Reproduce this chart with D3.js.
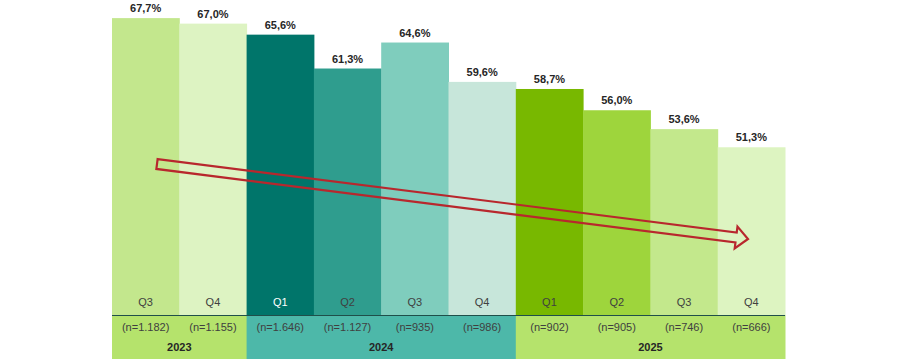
<!DOCTYPE html>
<html>
<head>
<meta charset="utf-8">
<script src="https://cdn.jsdelivr.net/npm/d3@7"></script>
<style>
    body { margin: 0; background: #fff; }
    #chart { width: 900px; height: 359px; }
    text { font-family: Arial, "Liberation Sans", sans-serif; }
</style>
</head>
<body>
<div id="chart"></div>
<script>
//Datos
const quarters = ['Q3', 'Q4', 'Q1', 'Q2', 'Q3', 'Q4', 'Q1', 'Q2', 'Q3', 'Q4'];
const years = ['2023', '2023', '2024', '2024', '2024', '2024', '2025', '2025', '2025', '2025'];
const values = [67.7, 67.0, 65.6, 61.3, 64.6, 59.6, 58.7, 56.0, 53.6, 51.3];
const samples = ['1.182', '1.155', '1.646', '1.127', '935', '986', '902', '905', '746', '666'];
const barColors = ['#c3e78d', '#ddf3c2', '#00756a', '#2f9d8e', '#7fcdbd', '#c7e6da', '#78b800', '#9ed53c', '#c3e88c', '#ddf4c1'];
const yearList = ['2023', '2024', '2025'];
const yearColors = ['#b5e36c', '#4db8a9', '#b5e36c'];

const keys = d3.range(values.length);

let margin = {top: 0, right: 115, bottom: 44, left: 112},
    width = 900 - margin.left - margin.right,
    height = 359 - margin.top - margin.bottom;

let svg = d3.select('#chart')
    .append('svg')
        .attr('width', 900)
        .attr('height', 359)
    .append('g')
        .attr('transform', 'translate(' + margin.left + ',' + margin.top + ')');

let x = d3.scaleBand()
    .domain(keys)
    .range([0, width])
    .padding(0);

//Eje Y (oculto), no empieza en 0
let y = d3.scaleLinear()
    .domain([30, 70])
    .range([height, 0]);

//Barras
svg.selectAll('.bar')
    .data(keys)
    .enter()
    .append('rect')
    .attr('class', 'bar')
    .attr('x', function(d) { return x(d); })
    .attr('width', x.bandwidth() + 0.5)
    .attr('y', function(d) { return y(values[d]); })
    .attr('height', function(d) { return height - y(values[d]); })
    .attr('fill', function(d) { return barColors[d]; });

//Etiquetas de valor
svg.selectAll('.label')
    .data(keys)
    .enter()
    .append('text')
    .attr('x', function(d) { return x(d) + x.bandwidth() / 2; })
    .attr('y', function(d) { return y(values[d]) - 6; })
    .attr('text-anchor', 'middle')
    .style('font-size', '11px')
    .style('font-weight', 'bold')
    .attr('fill', '#262626')
    .text(function(d) { return values[d].toFixed(1).replace('.', ',') + '%'; });

//Etiquetas de trimestre
svg.selectAll('.quarter')
    .data(keys)
    .enter()
    .append('text')
    .attr('x', function(d) { return x(d) + x.bandwidth() / 2; })
    .attr('y', height - 9)
    .attr('text-anchor', 'middle')
    .style('font-size', '11px')
    .attr('fill', function(d) { return d == 2 ? '#ffffff' : '#404040'; })
    .text(function(d) { return quarters[d]; });

//Bandas de año
yearList.forEach(function(yr, i) {
    let idx = keys.filter(function(k) { return years[k] == yr; });
    let x0 = x(idx[0]), x1 = x(idx[idx.length - 1]) + x.bandwidth();
    svg.append('rect')
        .attr('x', x0)
        .attr('y', height)
        .attr('width', x1 - x0 + 0.5)
        .attr('height', margin.bottom)
        .attr('fill', yearColors[i]);
    svg.append('text')
        .attr('x', (x0 + x1) / 2)
        .attr('y', height + 36)
        .attr('text-anchor', 'middle')
        .style('font-size', '11px')
        .style('font-weight', 'bold')
        .attr('fill', '#262626')
        .text(yr);
});

//Tamaño muestral
svg.selectAll('.sample')
    .data(keys)
    .enter()
    .append('text')
    .attr('x', function(d) { return x(d) + x.bandwidth() / 2; })
    .attr('y', height + 16)
    .attr('text-anchor', 'middle')
    .style('font-size', '11px')
    .attr('fill', '#404040')
    .text(function(d) { return '(n=' + samples[d] + ')'; });

//Línea separadora
svg.append('line')
    .attr('x1', 0)
    .attr('x2', width)
    .attr('y1', height + 0.5)
    .attr('y2', height + 0.5)
    .attr('stroke', '#1f4f4a')
    .attr('stroke-width', 1);

//Flecha de tendencia
let start = [157 - margin.left, 164], end = [748 - margin.left, 239];
let ang = Math.atan2(end[1] - start[1], end[0] - start[0]) * 180 / Math.PI;
let len = Math.hypot(end[0] - start[0], end[1] - start[1]);
let sw = 5, hw = 11, hl = 12;
let arrow = [[0, -sw], [len - hl, -sw], [len - hl, -hw], [len, 0], [len - hl, hw], [len - hl, sw], [0, sw]];
svg.append('path')
    .attr('d', d3.line()(arrow) + 'Z')
    .attr('transform', 'translate(' + start[0] + ',' + start[1] + ') rotate(' + ang + ')')
    .attr('fill', 'none')
    .attr('stroke', '#b8272d')
    .attr('stroke-width', 2.2)
    .attr('stroke-linejoin', 'miter');
</script>
</body>
</html>
